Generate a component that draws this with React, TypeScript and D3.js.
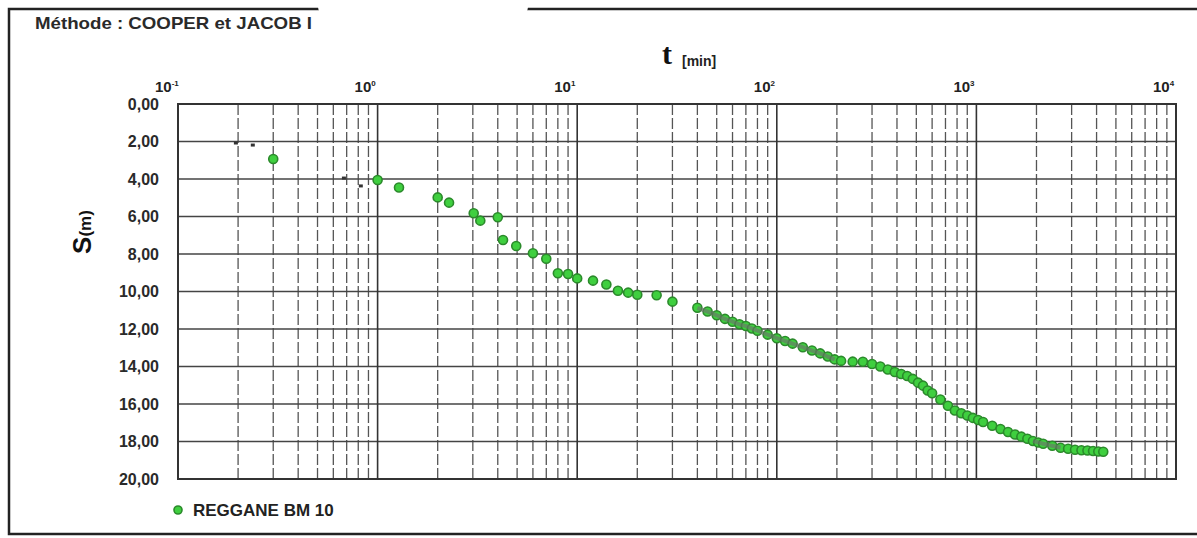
import * as d3 from "d3";

// temps de pompage (min) et rabattements (m)
const timeMin = [
  0.3, 1.0, 1.28, 2.0, 2.28, 3.03, 3.27, 4.0, 4.25, 4.95, 6.0, 7.0, 8.0, 9.0, 10, 12, 14, 16, 18, 20, 25, 30,
  40, 45, 50, 55, 60, 65, 70, 75, 80, 90, 100, 110, 120, 135, 150, 165, 180, 195, 210, 240, 270, 300, 330,
  360, 390, 420, 450, 480, 510, 540, 570, 600, 660, 720, 780, 840, 900, 960, 1020, 1080, 1200, 1320, 1440,
  1560, 1680, 1800, 1920, 2040, 2160, 2400, 2640, 2880, 3120, 3360, 3600, 3840, 4080, 4320,
];
const drawdown = [
  2.93, 4.05, 4.45, 4.98, 5.26, 5.83, 6.22, 6.04, 7.25, 7.57, 7.96, 8.25, 9.03, 9.07, 9.3, 9.42, 9.63, 9.96,
  10.06, 10.17, 10.2, 10.54,
  10.87, 11.07, 11.27, 11.46, 11.61, 11.75, 11.84, 11.97, 12.09, 12.3, 12.49, 12.64, 12.78, 12.97, 13.15,
  13.3, 13.47, 13.62, 13.7, 13.74, 13.75, 13.87, 14.0, 14.16, 14.29, 14.4, 14.51, 14.66, 14.86, 15.02, 15.28,
  15.43, 15.76, 16.09, 16.35, 16.49, 16.61, 16.74, 16.85, 16.96, 17.16, 17.33, 17.49, 17.63, 17.74, 17.85,
  17.97, 18.05, 18.12, 18.23, 18.33, 18.39, 18.44, 18.47, 18.48, 18.51, 18.53, 18.55,
];

// petites marques sombres du début de l'essai
const strayTime = [0.195, 0.237, 0.678, 0.824];
const strayDrawdown = [2.08, 2.19, 3.95, 4.37];

// tronçons où la courbe grise recouvre les points
const greyRanges = [
  [40, 200],
  [1900, 2700],
];

const decades = [-1, 0, 1, 2, 3, 4];
const yTicks = [0, 2, 4, 6, 8, 10, 12, 14, 16, 18, 20];

const W = 1197;
const H = 538;
const plot = { left: 178, right: 1176, top: 104, bottom: 479 };
const font = "Liberation Sans, Arial, sans-serif";

export default function App() {
  const x = d3.scaleLog().domain([0.1, 10000]).range([plot.left, plot.right]);
  const y = d3.scaleLinear().domain([0, 20]).range([plot.top, plot.bottom]);

  const minors: number[] = [];
  for (let e = -1; e < 4; e++) {
    for (let k = 2; k <= 9; k++) minors.push(k * Math.pow(10, e));
  }

  const pts = timeMin.map((t, i) => ({ t, s: drawdown[i] }));
  const line = d3
    .line<{ t: number; s: number }>()
    .x((d) => x(d.t))
    .y((d) => y(d.s))
    .curve(d3.curveMonotoneX);

  return (
    <svg
      width={W}
      height={H}
      style={{ position: "absolute", left: 0, top: 0, background: "#fff" }}
      fontFamily={font}
    >
      <rect x={0} y={0} width={W} height={H} fill="#fff" />
      {/* cadre */}
      <rect x={9} y={9} width={1210} height={525} fill="none" stroke="#222" strokeWidth={2.5} />
      <rect x={318} y={-6} width={210} height={22} rx={9} fill="#fff" />

      <text x={35} y={29} fontSize={17} fontWeight="bold" fill="#2a2a2a" textLength={277} lengthAdjust="spacingAndGlyphs">
        Méthode : COOPER et JACOB I
      </text>

      <text x={662} y={64} fontSize={30} fontWeight="bold" fontFamily="Liberation Serif, Times New Roman, serif" fill="#111">
        t
      </text>
      <text x={682} y={66} fontSize={14} fontWeight="bold" fill="#222">
        [min]
      </text>

      {/* grille */}
      {minors.map((m) => (
        <line
          key={"m" + m}
          x1={x(m)}
          x2={x(m)}
          y1={plot.top}
          y2={plot.bottom}
          stroke="#555"
          strokeWidth={1.3}
          strokeDasharray="11 3"
        />
      ))}
      {yTicks.map((v) => (
        <line key={"h" + v} x1={plot.left} x2={plot.right} y1={y(v)} y2={y(v)} stroke="#444" strokeWidth={1.5} />
      ))}
      {decades.map((e) => (
        <line
          key={"d" + e}
          x1={x(Math.pow(10, e))}
          x2={x(Math.pow(10, e))}
          y1={plot.top}
          y2={plot.bottom}
          stroke="#333"
          strokeWidth={1.6}
        />
      ))}
      <rect
        x={plot.left}
        y={plot.top}
        width={plot.right - plot.left}
        height={plot.bottom - plot.top}
        fill="none"
        stroke="#333"
        strokeWidth={2}
      />

      {/* graduations */}
      {decades.map((e) => (
        <text key={"l" + e} x={x(Math.pow(10, e)) - 23} y={92} fontSize={15} fontWeight="bold" fill="#222">
          10
          <tspan fontSize={8} dy={-6}>
            {e === -1 ? "-1" : e}
          </tspan>
        </text>
      ))}
      {yTicks.map((v) => (
        <text
          key={"y" + v}
          x={159}
          y={y(v)}
          dy="0.36em"
          textAnchor="end"
          fontSize={16}
          fontWeight="bold"
          fill="#2a2a2a"
        >
          {d3.format(".2f")(v).replace(".", ",")}
        </text>
      ))}

      <text transform="translate(91,232) rotate(-90)" textAnchor="middle" fontWeight="bold" fill="#111">
        <tspan fontSize={26}>S</tspan>
        <tspan fontSize={17}>(m)</tspan>
      </text>

      {/* points */}
      {strayTime.map((t, i) => (
        <rect key={"s" + i} x={x(t) - 2} y={y(strayDrawdown[i]) - 1.5} width={4} height={3} fill="#333" />
      ))}
      {pts.map((d, i) => (
        <circle key={"p" + i} cx={x(d.t)} cy={y(d.s)} r={4.5} fill="#3fcf3f" stroke="#2b8a2b" strokeWidth={1.6} />
      ))}
      {greyRanges.map((r, i) => (
        <path
          key={"g" + i}
          d={line(pts.filter((d) => d.t >= r[0] && d.t <= r[1])) || ""}
          fill="none"
          stroke="#6e6e6e"
          strokeWidth={4}
          strokeOpacity={0.6}
        />
      ))}

      {/* légende */}
      <circle cx={178} cy={510} r={4} fill="#3fcf3f" stroke="#2b8a2b" strokeWidth={1.6} />
      <text x={193} y={516} fontSize={17} fontWeight="bold" fill="#222">
        REGGANE BM 10
      </text>
    </svg>
  );
}
